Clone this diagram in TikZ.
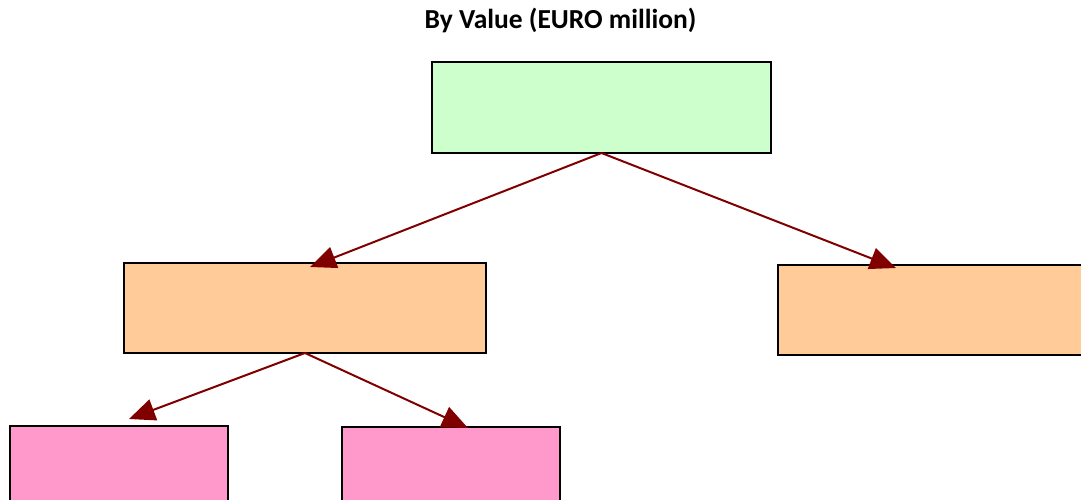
\documentclass[tikz,border=0pt]{standalone}
\usepackage{fontspec}
\setmainfont{Carlito}
\usetikzlibrary{arrows.meta}
\definecolor{boxgreen}{HTML}{CCFFCC}
\definecolor{boxorange}{HTML}{FFCC99}
\definecolor{boxpink}{HTML}{FF99CC}
\definecolor{arrowred}{HTML}{800000}
\tikzset{
  box/.style={draw=black, line width=2pt, inner sep=0pt},
  conn/.style={draw=arrowred, line width=2pt, -{Triangle[length=26pt,width=22pt]}},
}
\begin{document}
\begin{tikzpicture}[x=1pt,y=-1pt]
\useasboundingbox (0,0) rectangle (1081,500);
\clip (0,0) rectangle (1081,500);
\node[font=\bfseries\fontsize{27.5}{32}\selectfont, anchor=center] (title) at (560.5,20) {By Value (EURO million)};
\draw[box, fill=boxgreen] (432,62) rectangle (771,153);
\draw[box, fill=boxorange] (124,263) rectangle (486,353);
\draw[box, fill=boxorange] (778,265) rectangle (1100,355);
\draw[box, fill=boxpink] (10,426) rectangle (228,510);
\draw[box, fill=boxpink] (342,427) rectangle (560,510);
\coordinate (top) at (601.5,153);
\coordinate (mid) at (305,353);
\coordinate (t1) at (310,267);
\coordinate (t2) at (896,268);
\coordinate (t3) at (129,419);
\coordinate (t4) at (468,428);
\draw[conn] (top) -- (t1);
\draw[conn] (top) -- (t2);
\draw[conn] (mid) -- (t3);
\draw[conn] (mid) -- (t4);
\end{tikzpicture}
\end{document}
